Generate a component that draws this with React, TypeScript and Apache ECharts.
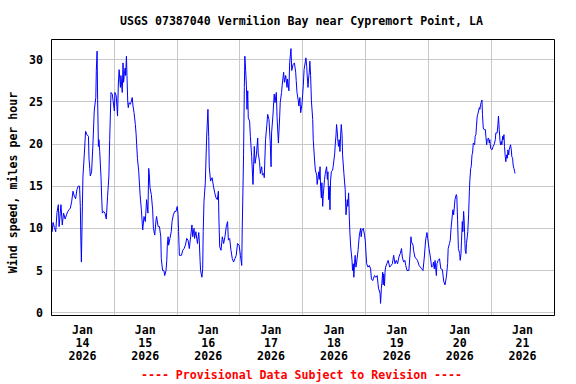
import React, { useEffect, useRef } from "react";
import * as echarts from "echarts";

const TITLE = "USGS 07387040 Vermilion Bay near Cypremort Point, LA";
const Y_NAME = "Wind speed, miles per hour";
const FOOTER = "---- Provisional Data Subject to Revision ----";
const DAY_LABELS = [
  "Jan\n14\n2026",
  "Jan\n15\n2026",
  "Jan\n16\n2026",
  "Jan\n17\n2026",
  "Jan\n18\n2026",
  "Jan\n19\n2026",
  "Jan\n20\n2026",
  "Jan\n21\n2026",
];
const Y_MAX = 32.4;
const X_MAX_HOURS = 192; // Jan 14 00:00 to Jan 22 00:00

// [hours since Jan 14 2026 00:00, wind speed mph]
const WIND: [number, number][] = [
  [0.2, 10.8], [0.4, 9.6], [0.8, 10.7], [1.3, 10.1], [1.8, 9.6], [2.3, 11.9], [2.8, 12.8], [3.1, 10.2],
  [3.5, 11.7], [3.8, 12.8], [4.3, 10.4], [4.8, 11.8], [5.4, 11.1], [5.9, 11.6], [6.4, 12.0], [6.9, 12.2],
  [7.4, 12.4], [7.9, 13.2], [8.4, 14.4], [8.9, 13.8], [9.4, 13.5], [9.9, 14.6], [10.4, 15.0], [10.9, 15.0],
  [11.2, 12.6], [11.4, 8.6], [11.6, 6.0], [12.0, 13.0], [12.2, 16.2], [12.7, 18.7], [13.2, 21.5], [13.7, 21.1],
  [14.3, 20.9], [14.5, 18.3], [14.8, 17.1], [15.0, 16.2], [15.5, 16.7], [16.0, 19.9], [16.5, 23.9], [17.1, 25.5],
  [17.3, 28.7], [17.6, 31.0], [17.8, 25.3], [18.1, 19.7], [18.3, 20.5], [18.6, 19.1], [19.1, 16.0], [19.4, 13.2],
  [19.6, 11.8], [20.1, 12.0], [20.6, 11.8], [21.1, 11.1], [21.6, 13.8], [22.1, 16.2], [22.4, 20.5], [22.9, 26.1],
  [23.4, 25.9], [23.7, 25.1], [24.2, 23.9], [24.4, 26.1], [24.9, 25.7], [25.4, 23.3], [25.7, 27.1], [26.0, 28.8],
  [26.5, 26.7], [26.7, 28.1], [27.2, 26.1], [27.5, 29.6], [27.7, 27.3], [28.0, 28.3], [28.3, 29.0], [28.5, 28.1],
  [28.8, 30.4], [29.0, 28.1], [29.3, 24.9], [29.5, 24.3], [29.8, 24.9], [30.3, 24.7], [30.5, 24.9], [31.0, 25.5],
  [31.3, 24.5], [31.7, 23.7], [32.2, 22.3], [32.5, 21.1], [32.7, 19.9], [33.0, 18.3], [33.5, 16.7], [34.0, 14.0],
  [34.5, 12.2], [35.0, 9.8], [35.5, 11.4], [36.0, 10.8], [36.5, 13.4], [37.0, 11.8], [37.3, 17.1], [37.5, 16.5],
  [37.8, 14.8], [38.3, 14.0], [38.8, 12.2], [39.1, 10.0], [39.6, 9.2], [40.1, 11.0], [40.3, 11.4], [40.9, 10.2],
  [41.4, 10.2], [41.9, 9.0], [42.1, 6.4], [42.6, 5.0], [43.1, 5.0], [43.4, 4.4], [43.9, 5.0], [44.2, 6.2],
  [44.4, 8.0], [44.7, 9.0], [44.9, 8.0], [45.4, 8.8], [45.9, 9.6], [46.2, 10.8], [46.7, 11.6], [47.2, 12.0],
  [47.7, 12.0], [48.2, 12.6], [48.5, 11.6], [48.7, 9.6], [49.0, 6.8], [49.8, 6.8], [50.3, 7.4], [50.8, 7.6],
  [51.3, 8.0], [51.8, 8.8], [52.3, 8.6], [52.8, 7.6], [53.3, 9.0], [53.8, 10.4], [54.1, 9.0], [54.6, 10.0],
  [54.8, 8.8], [55.3, 9.6], [55.9, 8.2], [56.4, 9.5], [56.6, 8.6], [56.9, 6.2], [57.1, 5.0], [57.6, 4.2],
  [57.9, 5.2], [58.1, 9.6], [58.4, 13.2], [58.9, 15.4], [59.4, 20.7], [59.9, 24.1], [60.2, 20.9], [60.4, 17.3],
  [60.9, 15.6], [61.5, 16.0], [62.0, 15.0], [62.5, 14.2], [63.0, 13.6], [63.5, 13.4], [63.9, 14.4], [64.1, 11.0],
  [64.4, 7.8], [64.9, 7.4], [65.4, 9.0], [65.9, 8.2], [66.4, 9.0], [66.9, 10.2], [67.4, 10.8], [67.7, 8.6],
  [68.2, 8.8], [68.7, 7.4], [69.2, 6.4], [69.7, 6.0], [70.2, 6.4], [70.7, 6.8], [71.2, 8.2], [71.8, 8.0],
  [72.3, 6.8], [72.8, 5.6], [73.0, 10.0], [73.3, 15.0], [73.5, 18.7], [73.8, 26.7], [74.0, 30.4], [74.3, 28.7],
  [74.6, 26.9], [74.8, 24.1], [75.1, 26.3], [75.3, 23.1], [75.8, 22.7], [76.1, 20.9], [76.6, 18.5], [77.1, 15.2],
  [77.6, 19.7], [77.9, 17.7], [78.4, 18.7], [78.9, 20.7], [79.1, 18.9], [79.6, 17.9], [79.9, 16.5], [80.4, 17.3],
  [80.7, 16.3], [81.2, 16.5], [81.4, 16.0], [81.9, 20.5], [82.4, 22.3], [82.7, 23.5], [83.2, 22.9], [83.7, 20.1],
  [84.0, 17.3], [84.2, 21.3], [84.7, 23.3], [85.2, 25.9], [85.5, 24.9], [86.0, 26.1], [86.3, 23.1], [86.8, 20.1],
  [87.3, 23.3], [87.5, 24.9], [88.0, 26.1], [88.3, 27.1], [88.8, 28.5], [89.1, 27.3], [89.6, 28.1], [90.1, 26.7],
  [90.3, 27.7], [90.8, 26.3], [91.1, 29.6], [91.6, 31.3], [91.9, 28.7], [92.4, 29.4], [92.9, 29.6], [93.4, 28.5],
  [93.6, 27.5], [93.9, 26.1], [94.4, 25.1], [94.6, 24.5], [95.0, 25.5], [95.3, 23.7], [95.8, 24.7], [96.3, 26.9],
  [96.6, 28.8], [97.1, 29.8], [97.3, 30.2], [97.6, 29.2], [97.8, 28.1], [98.1, 26.7], [98.3, 27.7], [98.6, 28.5],
  [98.8, 29.8], [99.1, 28.1], [99.4, 25.1], [99.9, 22.9], [100.1, 20.5], [100.6, 18.1], [100.9, 16.9], [101.4, 16.3],
  [101.6, 15.2], [102.2, 16.7], [102.4, 15.8], [102.7, 17.3], [102.9, 15.0], [103.2, 13.6], [103.4, 15.4], [103.7, 12.6],
  [103.9, 13.8], [104.4, 15.8], [104.7, 16.5], [105.2, 17.3], [105.5, 15.8], [105.7, 16.7], [106.0, 13.4], [106.2, 15.0],
  [106.5, 12.2], [106.7, 15.6], [107.0, 16.7], [107.5, 16.9], [107.7, 17.3], [108.3, 18.9], [108.5, 19.9], [108.8, 21.1],
  [109.0, 22.3], [109.3, 21.3], [109.5, 20.3], [109.8, 19.7], [110.0, 20.5], [110.3, 19.1], [110.6, 21.3], [110.8, 22.3],
  [111.1, 21.1], [111.3, 18.7], [111.8, 16.5], [112.3, 14.6], [112.6, 11.6], [113.1, 13.4], [113.3, 12.6], [113.6, 14.2],
  [113.9, 11.0], [114.1, 9.4], [114.4, 7.8], [114.9, 6.2], [115.1, 5.0], [115.4, 5.8], [115.6, 4.2], [115.9, 6.0],
  [116.1, 6.8], [116.4, 5.4], [116.7, 6.0], [117.2, 7.4], [117.7, 9.2], [118.2, 10.0], [118.4, 9.0], [118.7, 9.8],
  [119.2, 10.0], [119.7, 9.2], [120.0, 8.4], [120.2, 7.2], [120.5, 5.8], [121.0, 5.4], [121.5, 5.6], [122.0, 5.2],
  [122.3, 4.0], [122.8, 3.8], [123.0, 4.0], [123.5, 4.4], [124.0, 4.2], [124.5, 4.4], [124.8, 3.5], [125.0, 2.9],
  [125.6, 2.3], [125.8, 1.1], [126.1, 2.9], [126.3, 3.5], [126.6, 4.8], [126.8, 3.3], [127.0, 4.6], [127.3, 3.2],
  [127.5, 4.8], [127.7, 5.4], [128.2, 5.8], [128.7, 6.2], [129.3, 5.4], [129.8, 5.6], [130.3, 5.8], [130.8, 6.8],
  [131.3, 5.8], [131.8, 6.2], [132.3, 5.8], [132.8, 6.6], [133.3, 7.0], [133.8, 7.6], [134.1, 6.6], [134.6, 6.0],
  [135.1, 6.2], [135.4, 5.6], [135.9, 5.0], [136.6, 5.0], [137.1, 7.2], [137.4, 9.0], [137.6, 8.4], [138.2, 8.0],
  [138.4, 7.4], [138.9, 6.6], [139.4, 6.4], [139.9, 6.2], [140.5, 5.6], [141.0, 5.4], [141.5, 5.2], [142.0, 5.0],
  [142.5, 6.6], [143.0, 8.6], [143.5, 9.5], [143.8, 8.8], [144.3, 7.6], [144.8, 6.6], [145.3, 5.4], [145.8, 5.6],
  [146.0, 6.0], [146.3, 5.2], [146.6, 6.2], [147.1, 4.4], [147.3, 5.8], [147.8, 6.2], [148.3, 6.4], [148.8, 5.2],
  [149.4, 5.1], [149.9, 3.7], [150.4, 3.3], [150.9, 4.2], [151.4, 5.8], [151.6, 7.6], [152.1, 8.2], [152.4, 8.6],
  [152.7, 10.0], [153.2, 11.6], [153.4, 12.2], [153.7, 11.6], [154.2, 13.4], [154.7, 14.0], [154.9, 13.8], [155.2, 11.0],
  [155.5, 7.6], [156.0, 7.0], [156.2, 6.2], [156.5, 7.0], [156.7, 8.6], [157.0, 10.8], [157.2, 9.6], [157.5, 12.0],
  [157.7, 11.0], [158.1, 7.4], [158.4, 7.0], [158.6, 8.2], [158.9, 9.0], [159.1, 9.6], [159.4, 11.6], [159.7, 14.4],
  [159.9, 15.8], [160.2, 17.1], [160.4, 17.3], [160.7, 18.7], [160.9, 18.9], [161.2, 20.1], [161.7, 19.9], [161.9, 20.9],
  [162.2, 21.1], [162.4, 22.1], [162.7, 23.3], [162.9, 23.5], [163.2, 23.9], [163.5, 24.3], [163.7, 24.1], [164.0, 24.7],
  [164.2, 24.9], [164.5, 25.2], [164.7, 23.5], [165.0, 21.9], [165.3, 21.7], [165.8, 21.7], [166.0, 20.9], [166.3, 19.9],
  [166.5, 20.5], [167.0, 20.7], [167.3, 20.1], [167.5, 20.5], [167.8, 19.5], [168.3, 19.3], [168.8, 19.7], [169.1, 19.9],
  [169.3, 20.1], [169.6, 20.5], [169.8, 21.3], [170.3, 21.3], [170.6, 22.3], [170.8, 23.3], [171.1, 21.7], [171.4, 20.3],
  [171.6, 19.9], [171.9, 20.3], [172.1, 19.9], [172.4, 20.9], [172.6, 20.5], [172.9, 21.1], [173.1, 19.7], [173.4, 18.5],
  [173.6, 17.9], [173.9, 18.7], [174.2, 18.3], [174.4, 19.3], [174.7, 18.7], [174.9, 19.3], [175.4, 19.9], [175.7, 19.3],
  [175.9, 18.5], [176.2, 18.3], [176.4, 17.5], [176.7, 17.1], [177.0, 16.7], [177.1, 16.5],
];

const FONT = "'DejaVu Sans Mono', 'Liberation Mono', monospace";
const FONT_SIZE = 11.6;
const GRID_COLOR = "#c8c8c8";

export default function App() {
  const ref = useRef<HTMLDivElement>(null);

  useEffect(() => {
    if (!ref.current) return;
    const chart = echarts.init(ref.current, null, { renderer: "svg" });
    const labelStyle = {
      fontFamily: FONT,
      fontWeight: "bold" as const,
      fontSize: FONT_SIZE,
      color: "#000",
    };
    chart.setOption({
      animation: false,
      backgroundColor: "#fff",
      grid: [
        { left: 51, right: 22, top: 39.3, bottom: 71.3, outerBoundsMode: "none", containLabel: false },
        { left: 51, right: 22, top: 39.3, bottom: 68.3, outerBoundsMode: "none", containLabel: false },
      ],
      xAxis: [
        { gridIndex: 0, type: "value", min: 0, max: X_MAX_HOURS, show: false },
        {
          gridIndex: 1,
          type: "value",
          min: 0,
          max: X_MAX_HOURS,
          interval: 24,
          axisLine: { show: false },
          axisTick: { show: false },
          axisLabel: { show: false },
          splitLine: { show: true, lineStyle: { color: GRID_COLOR, width: 1 } },
        },
        {
          gridIndex: 1,
          type: "value",
          min: 0,
          max: X_MAX_HOURS,
          interval: 12,
          position: "bottom",
          axisLine: { show: false },
          axisTick: { show: false },
          splitLine: { show: false },
          axisLabel: {
            ...labelStyle,
            margin: 8,
            lineHeight: 13,
            verticalAlign: "top",
            showMinLabel: false,
            showMaxLabel: false,
            formatter: (v: number) => {
              if (v % 24 !== 12) return "";
              return DAY_LABELS[(v - 12) / 24] ?? "";
            },
          },
        },
      ],
      yAxis: [
        {
          gridIndex: 0,
          type: "value",
          min: 0,
          max: Y_MAX,
          interval: 5,
          axisLine: { show: false },
          axisTick: { show: false },
          splitLine: { show: true, lineStyle: { color: GRID_COLOR, width: 1 } },
          axisLabel: {
            ...labelStyle,
            margin: 8,
            showMaxLabel: false,
            formatter: (v: number) => (v % 5 === 0 ? String(v) : ""),
          },
        },
        { gridIndex: 1, type: "value", min: 0, max: 1, show: false },
      ],
      series: [
        {
          type: "line",
          xAxisIndex: 0,
          yAxisIndex: 0,
          data: WIND,
          symbol: "none",
          showSymbol: false,
          lineStyle: { color: "#0000ff", width: 1 },
          clip: true,
          silent: true,
          z: 3,
        },
      ],
      graphic: [
        {
          type: "rect",
          z: 100,
          silent: true,
          shape: { x: 51.5, y: 39.5, width: 503, height: 276 },
          style: { fill: "none", stroke: "#000", lineWidth: 1 },
        },
        {
          type: "text",
          x: 301.5,
          y: 20.5,
          silent: true,
          style: {
            text: TITLE,
            fill: "#000",
            fontFamily: FONT,
            fontWeight: "bold",
            fontSize: FONT_SIZE,
            align: "center",
            verticalAlign: "middle",
          },
        },
        {
          type: "text",
          x: 12.5,
          y: 182.5,
          rotation: Math.PI / 2,
          silent: true,
          style: {
            text: Y_NAME,
            fill: "#000",
            fontFamily: FONT,
            fontWeight: "bold",
            fontSize: FONT_SIZE,
            align: "center",
            verticalAlign: "middle",
          },
        },
        {
          type: "text",
          x: 301.5,
          y: 375,
          silent: true,
          style: {
            text: FOOTER,
            fill: "#ff0000",
            fontFamily: FONT,
            fontWeight: "bold",
            fontSize: FONT_SIZE,
            align: "center",
            verticalAlign: "middle",
          },
        },
      ],
    });
    return () => chart.dispose();
  }, []);

  return (
    <div
      ref={ref}
      style={{ position: "fixed", left: 0, top: 0, width: 576, height: 384 }}
    />
  );
}
